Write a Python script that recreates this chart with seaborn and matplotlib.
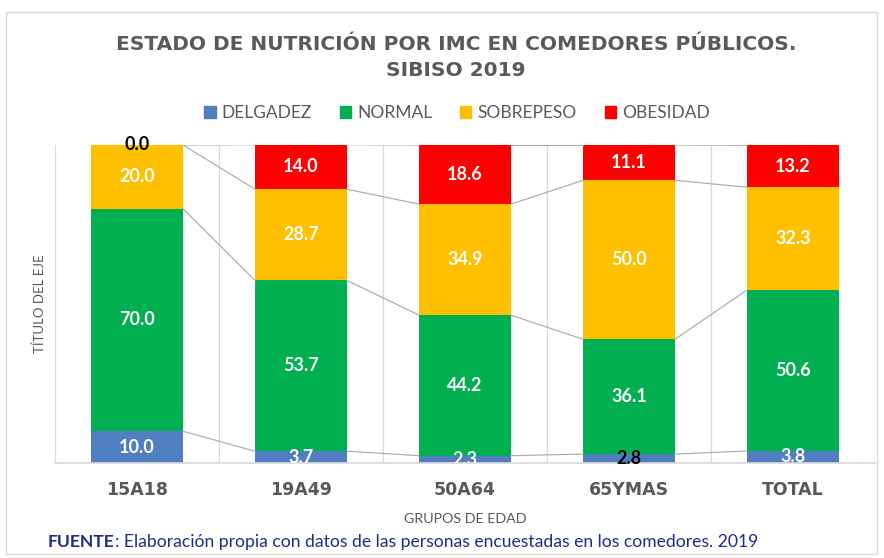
import numpy as np
import pandas as pd
import matplotlib
matplotlib.use("Agg")
import matplotlib.pyplot as plt
import seaborn as sns

groups = ["15A18", "19A49", "50A64", "65YMAS", "TOTAL"]
series = ["DELGADEZ", "NORMAL", "SOBREPESO", "OBESIDAD"]
delgadez = [10.0, 3.7, 2.3, 2.8, 3.8]
normal = [70.0, 53.7, 44.2, 36.1, 50.6]
sobrepeso = [20.0, 28.7, 34.9, 50.0, 32.3]
obesidad = [0.0, 14.0, 18.6, 11.1, 13.2]
colors = ["#4F7EC1", "#00B050", "#FFC000", "#FF0000"]

sns.set_theme(style="white")
plt.rcParams["font.family"] = ["Lato", "DejaVu Sans"]
GRAY = "#595959"

fig = plt.figure(figsize=(8.84, 5.58), dpi=100)
ax = fig.add_axes([55/884, 95/558, 820/884, 318/558])

values = [delgadez, normal, sobrepeso, obesidad]
df = pd.DataFrame({"grupo": groups})
for name, v in zip(series, values):
    df[name] = v

bw = 0.56
bottom = np.zeros(len(groups))
tops = []
for name, v, c in zip(series, values, colors):
    sns.barplot(data=df, x="grupo", y=name, bottom=bottom, color=c, width=bw,
                errorbar=None, ax=ax, label=name, saturation=1, linewidth=0)
    v = np.array(v)
    for i, (b, val) in enumerate(zip(bottom, v)):
        dark = (name == "OBESIDAD" and val == 0) or (name == "DELGADEZ" and groups[i] == "65YMAS")
        ax.text(i, b + val / 2, f"{val:.1f}", ha="center", va="center",
                fontsize=13, fontweight="bold",
                color="black" if dark else "white",
                clip_on=not dark, zorder=5)
    bottom = bottom + v
    tops.append(bottom.copy())

# series lines
for t in tops:
    for i in range(len(groups) - 1):
        ax.plot([i + bw / 2, i + 1 - bw / 2], [t[i], t[i + 1]],
                color="#ABABAB", lw=0.85, zorder=1)

ax.set_xlim(-0.5, len(groups) - 0.5)
ax.set_ylim(0, 100)
ax.set_yticks([])
ax.set_xticks(np.arange(-0.5, len(groups)), minor=True)
ax.grid(False)
ax.grid(True, which="minor", axis="x", color="#D9D9D9", lw=0.9)
ax.tick_params(axis="x", which="both", length=0)
ax.set_xticks(range(len(groups)))
ax.set_xticklabels(groups, fontsize=12.5, fontweight="bold", color=GRAY,
                   family=["DejaVu Sans"])
ax.tick_params(axis="x", pad=13)
for s in ["top", "right", "left"]:
    ax.spines[s].set_visible(False)
ax.spines["bottom"].set_color("#D9D9D9")
ax.set_xlabel("GRUPOS DE EDAD", fontsize=10.3, color=GRAY, labelpad=10)
ax.set_ylabel("TÍTULO DEL EJE", fontsize=9.5, color=GRAY)
ax.yaxis.set_label_coords(-9/820, 0.5)

if ax.get_legend():
    ax.get_legend().remove()
handles = [plt.Rectangle((0, 0), 1, 1, color=c) for c in colors]
fig.legend(handles, series, loc="center", bbox_to_anchor=(457/884, 1 - 113/558),
           ncol=4, frameon=False, fontsize=12.5, handlelength=0.65, handleheight=0.65,
           handletextpad=0.35, columnspacing=1.6, labelcolor=GRAY)

fig.text(456/884, 1 - 45/558, "ESTADO DE NUTRICIÓN POR IMC EN COMEDORES PÚBLICOS.",
         ha="center", va="center", fontsize=14.5, fontweight="bold", color=GRAY,
         family=["DejaVu Sans"])
fig.text(456/884, 1 - 70/558, "SIBISO 2019",
         ha="center", va="center", fontsize=14.5, fontweight="bold", color=GRAY,
         family=["DejaVu Sans"])

NAVY = "#1F2C8C"
t1 = fig.text(48/884, 1 - 542/558, "FUENTE", ha="left", va="center", fontsize=12.6,
              fontweight="bold", color=NAVY)
ax.annotate(": Elaboración propia con datos de las personas encuestadas en los comedores. 2019",
            xy=(1, 0.5), xycoords=t1, ha="left", va="center", fontsize=12.6, color=NAVY,
            annotation_clip=False)

# chart frame
fig.patches.append(plt.Rectangle((6/884, 4/558), 871/884, 542/558, transform=fig.transFigure,
                                 fill=False, edgecolor="#D9D9D9", lw=1))

fig.savefig("out.png", dpi=100, facecolor="white")
